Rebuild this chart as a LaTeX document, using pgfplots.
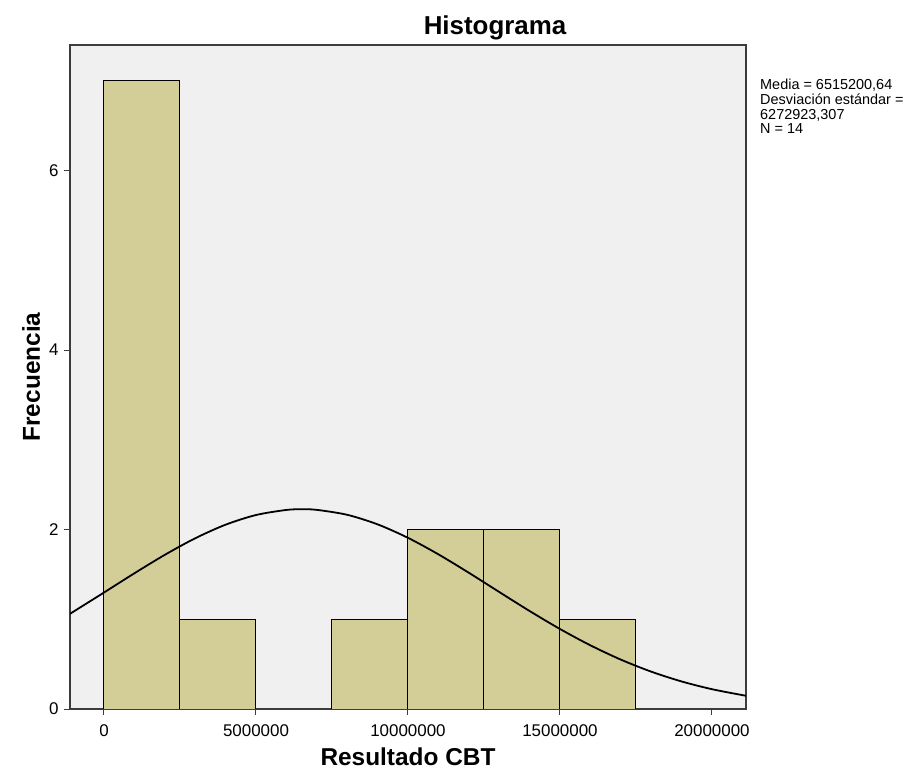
\documentclass[border=0pt]{standalone}
\usepackage{pgfplots}
\pgfplotsset{compat=1.18}
\usepackage{fontspec}
\setmainfont{Liberation Sans}
\definecolor{bgc}{HTML}{F0F0F0}
\definecolor{barc}{HTML}{D3CE97}
\definecolor{framec}{HTML}{3C3C3C}
\begin{document}
\begin{tikzpicture}[x=1bp,y=1bp]
\begin{axis}[
  at={(0,0)}, anchor=south west,
  scale only axis,
  width=676bp, height=664bp,
  xmin=-1118000, xmax=21120000,
  ymin=0, ymax=7.4,
  axis background/.style={fill=bgc},
  axis line style={framec, line width=1.2bp},
  xtick={0,5000000,10000000,15000000,20000000},
  ytick={0,2,4,6},
  scaled x ticks=false,
  xticklabel style={/pgf/number format/fixed,/pgf/number format/1000 sep={}},
  /pgf/number format/assume math mode=true,
  tick align=outside,
  tick pos=left,
  major tick length=6bp,
  tick style={framec, line width=1bp},
  ticklabel style={font=\fontsize{17}{20}\selectfont},
  xticklabel style={yshift=-6bp},
  yticklabel style={xshift=-2bp},
  title={\bfseries Histograma},
  title style={font=\fontsize{26}{30}\selectfont, yshift=-4bp, xshift=87bp},
  xlabel={\bfseries Resultado CBT},
  ylabel={\bfseries Frecuencia},
  label style={font=\fontsize{24.5}{28}\selectfont},
  xlabel style={yshift=-4bp},
  ylabel style={yshift=2bp},
  clip=true,
]
\addplot[ybar interval, fill=barc, draw=black, line width=1bp] coordinates {
  (0,7) (2500000,1) (5000000,0) (7500000,1) (10000000,2) (12500000,2) (15000000,1) (17500000,1)
};
\addplot[black, line width=1.8bp, smooth, no marks] coordinates {
  (-1118000,1.0616) (-1000000,1.0860) (0,1.2980) (1000000,1.5124) (2000000,1.7179)
  (3000000,1.9025) (4000000,2.0540) (5000000,2.1619) (6000000,2.2184) (6515200,2.2259)
  (7000000,2.2193) (8000000,2.1644) (9000000,2.0579) (10000000,1.9076) (11000000,1.7239)
  (12000000,1.5188) (13000000,1.3045) (14000000,1.0923) (15000000,0.8917) (16000000,0.7097)
  (17000000,0.5506) (18000000,0.4165) (19000000,0.3071) (20000000,0.2208) (21000000,0.1548)
  (21120000,0.1480)
};
\end{axis}
\node[anchor=north west, align=left, inner sep=0pt, font=\fontsize{14.5}{14.8}\selectfont]
  at (690bp,630bp) {Media = 6515200,64\\ Desviación estándar =\\6272923,307\\ N = 14};
\pgfresetboundingbox
\path[use as bounding box] (-70bp,-69bp) rectangle (843bp,709bp);
\end{tikzpicture}
\end{document}
